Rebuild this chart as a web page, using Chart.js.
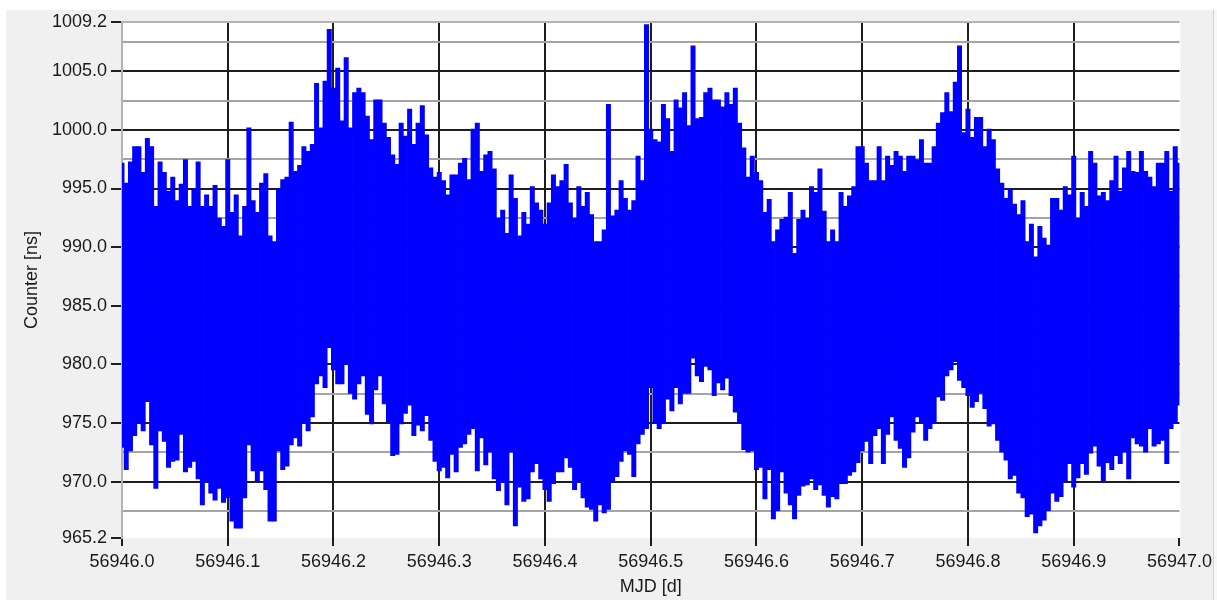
<!DOCTYPE html>
<html>
<head>
<meta charset="utf-8">
<title>Counter vs MJD</title>
<script src="https://cdn.jsdelivr.net/npm/chart.js@4.4.1/dist/chart.umd.min.js"></script>
<style>
  html, body { margin: 0; padding: 0; background: #ffffff; }
  #wrap { position: relative; width: 1217px; height: 600px; }
</style>
</head>
<body>
<div id="wrap"><canvas id="chart"></canvas></div>
<script>
// Sampling of the counter record: one column every STEP days starting at MJD0.
const MJD0 = 56946.0;
const STEP = 0.004;

// Upper extreme of the counter reading in each column [ns].
const counterMax = [
  997.2, 995.5, 997.3, 998.6, 998.6, 996.4, 999.3, 998.6, 993.5, 997.3,
  996.4, 994.8, 996.0, 994.0, 995.4, 997.5, 993.5, 995.0, 997.3, 993.5,
  994.5, 993.5, 995.3, 992.5, 991.8, 997.5, 993.0, 994.5, 991.0, 993.5,
  1000.2, 994.0, 993.0, 995.5, 996.3, 991.0, 990.5, 995.0, 995.8, 996.0,
  1000.7, 996.5,
  997.0, 998.6, 998.2, 998.8, 1004.0, 1000.2, 1004.2, 1008.6, 1003.6, 1005.3,
  1000.8, 1006.2, 1000.2, 1003.2, 1003.6, 1003.2, 1001.2, 999.2, 1002.6, 1002.6,
  1000.6, 999.4, 997.9, 997.1, 1000.6, 999.5, 1001.8, 998.8, 1000.6, 1002.1,
  999.6, 996.8, 996.0, 996.4, 995.7, 994.5, 996.2, 996.2, 997.2, 997.6,
  995.8, 1000.1,
  1000.6, 996.5, 997.9, 998.2, 996.7, 992.5, 993.2, 991.2, 996.2, 994.2,
  991.0, 993.0, 992.0, 995.2, 993.8, 993.2, 992.0, 993.8, 996.2, 995.2,
  995.7, 997.1, 993.8, 992.5, 995.2, 993.5, 994.7, 992.8, 990.5, 990.5,
  991.5, 1002.2, 992.7, 993.2, 995.7, 994.2, 993.2, 994.0, 997.8, 995.7,
  1009.0, 1000.1, 999.2,
  999.0, 1002.2, 1001.0, 998.2, 1002.6, 1001.9, 1003.2, 1000.4, 1007.2, 1001.0,
  1001.1, 1003.2, 1003.6, 1002.6, 1002.6, 1002.0, 1003.2, 1002.2, 1003.6, 1000.6,
  998.5, 996.0, 997.8, 996.4, 995.7, 993.0, 994.1, 990.5, 991.5, 992.4,
  992.6, 994.7, 989.5, 992.4, 993.2, 992.5, 995.2, 994.7, 996.7, 993.1,
  990.5, 991.5,
  990.5, 994.7, 993.5, 994.4, 995.2, 998.6, 998.6, 997.2, 995.7, 995.7,
  998.6, 995.7, 997.8, 997.0, 998.2, 997.8, 996.5, 997.8, 997.8, 997.5,
  999.2, 997.2, 997.2, 998.6, 1000.6, 1001.5, 1003.2, 1001.6, 1004.1, 1007.2,
  999.8, 1001.8, 999.4, 1001.1, 1001.1, 998.6, 1000.1, 999.2, 996.7, 995.5,
  994.2, 995.0, 993.7,
  992.8, 994.0, 990.5, 992.0, 989.2, 991.8, 990.8, 990.2, 994.2, 994.2,
  993.2, 995.2, 994.5, 997.8, 992.5, 994.7, 993.5, 998.2, 997.2, 994.4,
  994.7, 994.0, 995.7, 997.8, 994.8, 996.8, 998.2, 996.5, 996.4, 998.2,
  996.5, 996.0, 995.2, 997.2, 997.2, 998.2, 994.8, 998.6, 997.2
];

// Lower extreme of the counter reading in each column [ns].
const counterMin = [
  972.9, 971.0, 972.6, 973.9, 975.0, 974.3, 976.8, 973.1, 969.4, 974.3,
  973.4, 971.2, 971.7, 971.8, 974.0, 970.8, 971.2, 971.7, 970.2, 968.0,
  970.0, 969.0, 968.4, 969.4, 968.2, 968.6, 966.6, 966.0, 966.0, 968.6,
  973.1, 970.9, 970.0, 970.9, 969.3, 966.6, 966.6, 972.6, 971.0, 971.3,
  973.1, 973.7,
  973.0, 975.0, 974.3, 975.5, 978.3, 979.0, 978.0, 981.4, 979.5, 978.3,
  978.3, 980.0, 977.5, 977.0, 978.3, 979.0, 975.7, 974.9, 977.8, 979.0,
  976.6, 975.1, 972.2, 972.3, 974.9, 975.8, 976.5, 973.9, 974.8, 974.3,
  975.6, 973.5, 971.7, 970.9, 971.2, 970.3, 972.3, 970.8, 972.9, 973.2,
  974.0, 974.5,
  970.9, 973.7, 971.4, 972.5, 970.2, 969.2, 969.9, 968.0, 972.5, 966.2,
  969.5, 968.3, 968.5, 970.8, 971.5, 970.2, 969.3, 968.3, 969.8, 970.8,
  970.8, 972.0, 971.2, 969.3, 970.0, 968.6, 967.8, 967.6, 966.6, 968.0,
  967.3, 967.6, 970.0, 970.4, 971.7, 972.6, 972.3, 970.4, 973.2, 974.0,
  974.5, 978.0, 975.0,
  974.5, 975.0, 977.0, 976.0, 978.0, 976.6, 977.5, 977.5, 980.5, 979.0,
  978.5, 979.8, 979.5, 977.3, 978.4, 977.8, 978.8, 977.3, 975.9, 975.0,
  972.7, 972.5, 972.6, 971.0, 971.2, 968.5, 971.0, 966.8, 967.5, 970.8,
  969.0, 968.0, 966.8, 968.8, 969.6, 969.7, 970.2, 969.3, 969.7, 968.8,
  967.8, 968.7,
  968.5, 969.8, 969.8, 970.5, 970.8, 971.6, 972.6, 973.4, 971.5, 973.9,
  974.5, 971.5, 974.0, 975.5, 973.5, 972.8, 971.2, 972.0, 974.2, 975.5,
  975.0, 973.5, 974.5, 975.0, 977.2, 976.9, 979.0, 979.5, 980.2, 978.6,
  978.0, 977.3, 976.3, 976.8, 977.5, 976.2, 974.7, 974.9, 973.5, 972.5,
  971.8, 970.2, 970.5,
  969.0, 968.6, 967.0, 967.2, 965.6, 966.2, 966.7, 967.5, 969.0, 968.3,
  968.7, 970.0, 971.5, 969.5, 970.3, 971.5, 970.6, 972.4, 973.0, 971.3,
  970.0, 971.6, 971.0, 972.2, 971.5, 972.5, 970.2, 973.7, 973.2, 973.0,
  972.5, 974.5, 973.0, 973.2, 973.5, 971.5, 974.5, 975.0, 976.5
];

// Axis ticks.
const xTicks = [56946.0, 56946.1, 56946.2, 56946.3, 56946.4, 56946.5,
                56946.6, 56946.7, 56946.8, 56946.9, 56947.0];
const yTicks = [965.2, 970.0, 975.0, 980.0, 985.0, 990.0, 995.0, 1000.0, 1005.0, 1009.2];
const yMinorTicks = [967.5, 972.5, 977.5, 982.5, 987.5, 992.5, 997.5, 1002.5, 1007.5];
const xTitle = 'MJD [d]';
const yTitle = 'Counter [ns]';

const columns = counterMax.map((hi, i) => ({
  x: MJD0 + i * STEP,
  y: [counterMin[i], hi]
}));

const MAJOR = '#1e1e1e';
const MINOR = '#a4a4a4';
const FRAME = '#b4b4b4';
const TEXT = '#1a1a1a';

Chart.defaults.font.family = '"Liberation Sans", Arial, sans-serif';
Chart.defaults.color = TEXT;

// Window panel and white plotting field behind everything.
const panelBackground = {
  id: 'panelBackground',
  beforeDraw(chart) {
    const { ctx, chartArea: a, width, height } = chart;
    ctx.save();
    ctx.fillStyle = '#ffffff';
    ctx.fillRect(0, 0, width, height);
    ctx.fillStyle = '#f0f0f0';
    ctx.fillRect(6, 10, 1207, height - 10);
    ctx.fillStyle = '#d4d4d4';
    ctx.fillRect(1213, 10, 1, height - 10);
    ctx.fillStyle = '#f7f7f7';
    ctx.fillRect(1214, 10, width - 1214, height - 10);
    ctx.fillStyle = '#ffffff';
    ctx.fillRect(a.left - 1, a.top, a.right - a.left + 2, a.bottom - a.top);
    ctx.restore();
  }
};

new Chart(document.getElementById('chart'), {
  type: 'bar',
  data: {
    datasets: [{
      data: columns,
      backgroundColor: '#0000ff',
      borderWidth: 0,
      barPercentage: 1.18,
      categoryPercentage: 1,
      grouped: false,
      clip: 0
    }]
  },
  plugins: [panelBackground],
  options: {
    responsive: true,
    maintainAspectRatio: false,
    animation: false,
    layout: { padding: { left: 0, top: 22, right: 34, bottom: 0 } },
    plugins: {
      legend: { display: false },
      tooltip: { enabled: false }
    },
    scales: {
      x: {
        type: 'linear',
        offset: false,
        min: xTicks[0],
        max: xTicks[xTicks.length - 1],
        afterBuildTicks: s => { s.ticks = xTicks.map(v => ({ value: v })); },
        afterFit: s => { s.height = 62; },
        ticks: {
          autoSkip: false,
          maxRotation: 0,
          padding: 5,
          font: { size: 18 },
          color: TEXT,
          callback: v => Number(v).toFixed(1)
        },
        grid: {
          offset: false,
          color: c => (c.tick && (c.tick.value === xTicks[0] || c.tick.value === xTicks[xTicks.length - 1])) ? 'rgba(0,0,0,0)' : MAJOR,
          tickColor: MAJOR,
          lineWidth: 2,
          tickLength: 8
        },
        border: { display: false },
        title: {
          display: true,
          text: xTitle,
          font: { size: 18 },
          color: TEXT,
          padding: { top: 0, bottom: 2 }
        }
      },
      yMinor: {
        type: 'linear',
        position: 'left',
        min: yTicks[0],
        max: yTicks[yTicks.length - 1],
        afterBuildTicks: s => { s.ticks = yMinorTicks.map(v => ({ value: v })); },
        afterFit: s => { s.width = 0; },
        ticks: { display: false },
        grid: { color: MINOR, lineWidth: 2, drawTicks: false },
        border: { display: false }
      },
      y: {
        type: 'linear',
        position: 'left',
        min: yTicks[0],
        max: yTicks[yTicks.length - 1],
        afterBuildTicks: s => { s.ticks = yTicks.map(v => ({ value: v })); },
        afterFit: s => { s.width = 122; },
        ticks: {
          autoSkip: false,
          padding: 4,
          font: { size: 18 },
          color: TEXT,
          callback: v => Number(v).toFixed(1)
        },
        grid: {
          color: c => {
            if (!c.tick) return MAJOR;
            if (c.tick.value === yTicks[0]) return 'rgba(0,0,0,0)';
            if (c.tick.value === yTicks[yTicks.length - 1]) return FRAME;
            return MAJOR;
          },
          tickColor: MAJOR,
          lineWidth: 2,
          tickLength: 11
        },
        border: { display: true, color: FRAME, width: 2 },
        title: {
          display: true,
          text: yTitle,
          font: { size: 18 },
          color: TEXT,
          padding: { top: 21, bottom: 0 }
        }
      }
    }
  }
});
</script>
</body>
</html>
